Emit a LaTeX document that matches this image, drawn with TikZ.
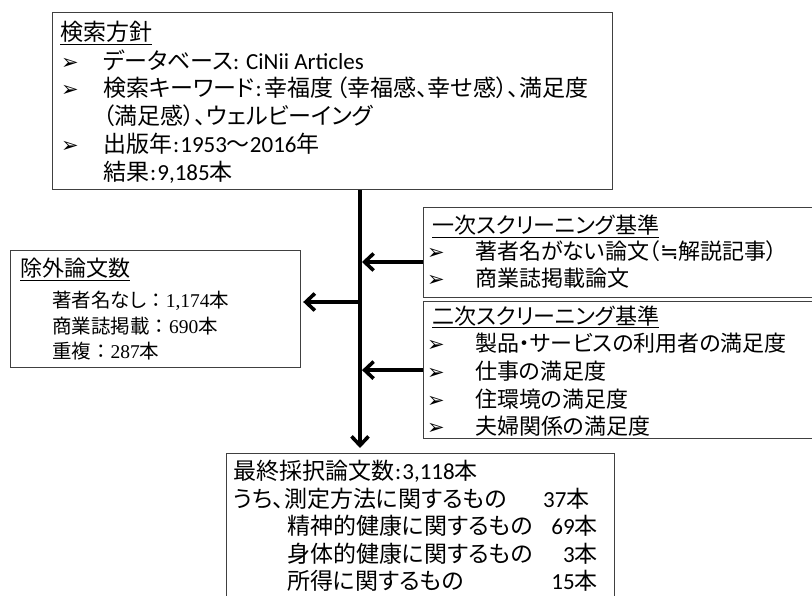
\documentclass[tikz,border=0pt]{standalone}
\usepackage{fontspec}
\setmainfont{Noto Sans CJK JP}[RawFeature={+palt}]
\newfontfamily\jpfull{Noto Sans CJK JP}
\newfontfamily\latf{Carlito}
\newfontfamily\tmsf{Liberation Serif}
\newfontfamily\symf{DejaVu Sans}
\usetikzlibrary{arrows.meta}
\newcommand\szA{\fontsize{23}{27}\selectfont}
\newcommand\szB{\fontsize{22}{27}\selectfont}
\newcommand\szC{\fontsize{19.5}{25}\selectfont}
\newcommand\bulsz{\fontsize{21}{21}\symf}
\tikzset{
  box/.style={draw=black!75, line width=1.2pt, fill=white, inner sep=0pt, anchor=north west},
  txtA/.style={anchor=base west, inner sep=0pt, font=\szA, text height=17pt, text depth=4pt},
  txtB/.style={anchor=base west, inner sep=0pt, font=\szB, text height=16pt, text depth=4pt},
  txtC/.style={anchor=base west, inner sep=0pt, font=\szC, text height=15pt, text depth=3pt},
  bul/.style={anchor=base west, inner sep=0pt, font=\bulsz, text height=13pt, text depth=0pt},
  flow/.style={line width=3.6pt, -{Straight Barb[length=9pt,width=17pt]}},
}
\begin{document}
\begin{tikzpicture}[x=1pt,y=-1pt]
\useasboundingbox (0,0) rectangle (812,596);
\clip (0,0) rectangle (812,596);
% boxes
\node[box, minimum width=560pt, minimum height=177pt] (search) at (52,12) {};
\node[box, minimum width=290pt, minimum height=117pt] (excl) at (10,250) {};
\node[box, minimum width=410pt, minimum height=90pt] (scr1) at (423,207) {};
\node[box, minimum width=410pt, minimum height=137pt] (scr2) at (423,301) {};
\node[box, minimum width=388pt, minimum height=170pt] (final) at (226,453) {};
% search policy text
\node[txtA] (s1) at (60,41) {\underline{検索方針}};
\node[bul] (sb1) at (61,70) {➢};
\node[txtA] (s2) at (103,70) {データベース{\latf: CiNii Articles}};
\node[bul] (sb2) at (61,97) {➢};
\node[txtA] (s3) at (103,97) {検索キーワード\kern1pt{\latf:}\kern3pt 幸福度\kern2pt（幸福感、幸せ感）、満足度};
\node[txtA] (s4) at (103,125) {（満足感）、ウェルビーイング};
\node[bul] (sb3) at (61,153) {➢};
\node[txtA] (s5) at (103,153) {出版年\kern1pt{\latf:}\kern1pt{\latf 1953}〜{\latf 2016}年};
\node[txtA] (s6) at (103,181) {結果\kern1pt{\latf:}\kern1pt{\latf 9,185}本};
% first screening
\node[txtB] (a1) at (432,234) {\underline{一次スクリーニング基準}};
\node[bul] (ab1) at (427,260) {➢};
\node[txtB] (a2) at (475,260) {著者名がない論文（{\symf ≒}解説記事）};
\node[bul] (ab2) at (427,287) {➢};
\node[txtB] (a3) at (475,287) {商業誌掲載論文};
% second screening
\node[txtB] (b1) at (432,324) {\underline{二次スクリーニング基準}};
\node[bul] (bb1) at (427,352) {➢};
\node[txtB] (b2) at (475,352) {製品・サービスの利用者の満足度};
\node[bul] (bb2) at (427,380) {➢};
\node[txtB] (b3) at (475,380) {仕事の満足度};
\node[bul] (bb3) at (427,407) {➢};
\node[txtB] (b4) at (475,407) {住環境の満足度};
\node[bul] (bb4) at (427,434) {➢};
\node[txtB] (b5) at (475,434) {夫婦関係の満足度};
% excluded
\node[txtB] (e1) at (20,277) {\underline{除外論文数}};
\node[txtC] (e2) at (52,308) {著者名なし{\jpfull ：}{\tmsf 1,174}本};
\node[txtC] (e3) at (52,334) {商業誌掲載{\jpfull ：}{\tmsf 690}本};
\node[txtC] (e4) at (52,359) {重複{\jpfull ：}{\tmsf 287}本};
% final
\node[txtA] (f1) at (233,479) {最終採択論文数\kern1pt{\latf:}\kern1pt{\latf 3,118}本};
\node[txtA] (f2) at (233,507) {うち、測定方法に関するもの};
\node[txtA] (f2n) at (543,507) {{\latf 37}本};
\node[txtA] (f3) at (287,534) {精神的健康に関するもの};
\node[txtA, anchor=base east] (f3n) at (598,534) {{\latf 69}本};
\node[txtA] (f4) at (287,562) {身体的健康に関するもの};
\node[txtA, anchor=base east] (f4n) at (598,562) {{\latf 3}本};
\node[txtA] (f5) at (287,589) {所得に関するもの};
\node[txtA, anchor=base east] (f5n) at (598,589) {{\latf 15}本};
% connectors
\coordinate (sp) at (360,262);
\coordinate (jl) at (360,302);
\draw[flow, shorten >=5pt] (search.south -| sp) -- (final.north -| sp);
\draw[flow, shorten >=2pt] (scr1.west |- sp) -- (sp);
\draw[flow, shorten >=2pt] (scr2.west) -- (scr2.west -| sp);
\draw[flow, shorten >=2pt] (jl) -- (excl.east |- jl);
\end{tikzpicture}
\end{document}
